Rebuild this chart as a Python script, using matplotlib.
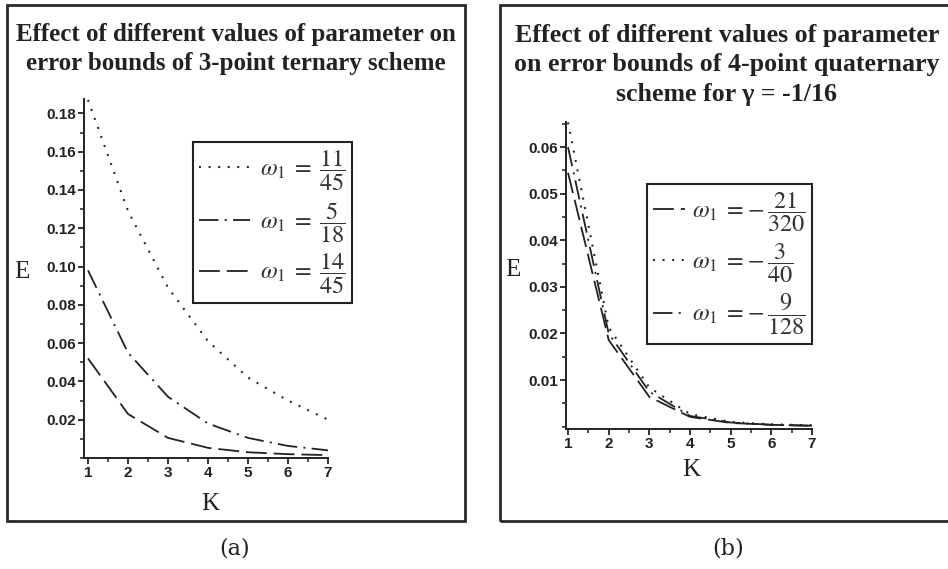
import matplotlib
matplotlib.use("Agg")
import matplotlib.pyplot as plt
from matplotlib.patches import Rectangle
from matplotlib.ticker import MultipleLocator

plt.rcParams['mathtext.fontset'] = 'stix'
plt.rcParams['lines.scale_dashes'] = False

# data
K = [1, 2, 3, 4, 5, 6, 7]

# (a) 3-point ternary scheme
a_11_45 = [0.187, 0.129, 0.089, 0.061, 0.042, 0.030, 0.020]
a_5_18 = [0.098, 0.055, 0.032, 0.018, 0.0105, 0.0063, 0.0040]
a_14_45 = [0.052, 0.023, 0.0105, 0.0053, 0.0030, 0.0020, 0.0015]
a_labels = [r'$\omega_1\;=\;\dfrac{11}{45}$',
            r'$\omega_1\;=\;\dfrac{5}{18}$',
            r'$\omega_1\;=\;\dfrac{14}{45}$']
a_yticks = [0.02, 0.04, 0.06, 0.08, 0.10, 0.12, 0.14, 0.16, 0.18]

# (b) 4-point quaternary scheme, gamma = -1/16
b_21_320 = [0.0545, 0.0186, 0.0064, 0.0021, 0.0008, 0.0004, 0.0002]
b_3_40 = [0.0653, 0.0213, 0.0084, 0.0027, 0.0010, 0.0005, 0.0003]
b_9_128 = [0.0600, 0.0200, 0.0075, 0.0023, 0.0009, 0.0004, 0.0002]
b_labels = [r'$\omega_1\;=\!-\dfrac{21}{320}$',
            r'$\omega_1\;=\!-\dfrac{3}{40}$',
            r'$\omega_1\;=\!-\dfrac{9}{128}$']
b_yticks = [0.01, 0.02, 0.03, 0.04, 0.05, 0.06]

title_a = "Effect of different values of parameter on\nerror bounds of 3-point ternary scheme"
title_b = ("Effect of different values of parameter\non error bounds of 4-point quaternary\n"
           "scheme for \u03b3 = -1/16")

W, H = 948, 569
fig = plt.figure(figsize=(W / 100, H / 100), dpi=100)
INK = '#222222'


def fx(px):
    return px / W


def fy(py):
    return 1 - py / H


DOT = (0, (1.4, 5.5))
DASH = (0, (15, 5))
DASHDOT = (0, (14, 4.5, 1.5, 4.5))


def style_axes(ax, yticks, yminor):
    for s in ['top', 'right']:
        ax.spines[s].set_visible(False)
    for s in ['left', 'bottom']:
        ax.spines[s].set_linewidth(1.4)
        ax.spines[s].set_color(INK)
    ax.xaxis.set_major_locator(MultipleLocator(1))
    ax.xaxis.set_minor_locator(MultipleLocator(0.5))
    ax.set_yticks(yticks)
    ax.set_yticklabels(['%.2f' % v for v in yticks])
    ax.yaxis.set_minor_locator(MultipleLocator(yminor))
    ax.tick_params(which='major', direction='out', length=4.5, width=1.3, color=INK, pad=1.5)
    ax.tick_params(which='minor', direction='out', length=3, width=1.1, color=INK)
    for lab in ax.get_xticklabels() + ax.get_yticklabels():
        lab.set_fontfamily('Liberation Sans')
        lab.set_fontweight('bold')
        lab.set_fontsize(11)
        lab.set_color(INK)


def style_legend(leg):
    leg.get_frame().set_edgecolor(INK)
    leg.get_frame().set_linewidth(1.5)
    for t in leg.get_texts():
        t.set_color('#333333')


# frames round each panel
fig.patches.append(Rectangle((fx(7), fy(521)), fx(465 - 7), fy(5) - fy(521), fill=False,
                             lw=2, ec='#2a2a2a', transform=fig.transFigure))
fig.patches.append(Rectangle((fx(500), fy(521)), fx(960 - 500), fy(5) - fy(521), fill=False,
                             lw=2, ec='#2a2a2a', transform=fig.transFigure, clip_on=False))

# ---- panel (a)
ax1 = fig.add_axes([fx(84), fy(458), fx(328 - 84), fy(99) - fy(458)])
ax1.plot(K, a_11_45, color=INK, lw=1.5, linestyle=DOT, label=a_labels[0])
ax1.plot(K, a_5_18, color=INK, lw=1.3, linestyle=DASHDOT, label=a_labels[1])
ax1.plot(K, a_14_45, color=INK, lw=1.3, linestyle=DASH, label=a_labels[2])
ax1.set_xlim(0.9, 7)
ax1.set_ylim(0, 0.1875)
style_axes(ax1, a_yticks, 0.01)
leg1 = ax1.legend(loc='upper left', bbox_to_anchor=(fx(193), fy(142)), bbox_transform=fig.transFigure,
                  borderaxespad=0, fontsize=17.5, handlelength=2.1, labelspacing=0.3,
                  handletextpad=0.4, borderpad=0.25, fancybox=False, framealpha=1)
style_legend(leg1)

fig.text(fx(236), fy(49), title_a, ha='center', va='center', family='Liberation Serif',
         weight='bold', fontsize=18, linespacing=1.3, color=INK)
fig.text(fx(22), fy(272), 'E', ha='center', va='center', family='Liberation Serif', fontsize=18, color=INK)
fig.text(fx(210), fy(504), 'K', ha='center', va='center', family='Liberation Serif', fontsize=18, color=INK)
fig.text(fx(235), fy(549), '(a)', ha='center', va='center', family='DejaVu Serif', fontsize=16, color=INK)

# ---- panel (b)
ax2 = fig.add_axes([fx(566), fy(429), fx(812 - 566), fy(122) - fy(429)])
ax2.plot(K, b_21_320, color=INK, lw=1.3, linestyle=DASH, label=b_labels[0])
ax2.plot(K, b_3_40, color=INK, lw=1.5, linestyle=DOT, label=b_labels[1])
ax2.plot(K, b_9_128, color=INK, lw=1.3, linestyle=DASHDOT, label=b_labels[2])
ax2.set_xlim(0.95, 7)
ax2.set_ylim(-0.0005, 0.0654)
style_axes(ax2, b_yticks, 0.005)
leg2 = ax2.legend(loc='upper left', bbox_to_anchor=(fx(647), fy(184)), bbox_transform=fig.transFigure,
                  borderaxespad=0, fontsize=17.5, handlelength=1.3, labelspacing=0.3,
                  handletextpad=0.3, borderpad=0.25, fancybox=False, framealpha=1)
style_legend(leg2)

fig.text(fx(727), fy(65), title_b, ha='center', va='center', family='Liberation Serif',
         weight='bold', fontsize=18.6, linespacing=1.36, color=INK)
fig.text(fx(513), fy(270), 'E', ha='center', va='center', family='Liberation Serif', fontsize=18, color=INK)
fig.text(fx(691), fy(470), 'K', ha='center', va='center', family='Liberation Serif', fontsize=18, color=INK)
fig.text(fx(728), fy(549), '(b)', ha='center', va='center', family='DejaVu Serif', fontsize=16, color=INK)

fig.savefig('out.png', dpi=100)
